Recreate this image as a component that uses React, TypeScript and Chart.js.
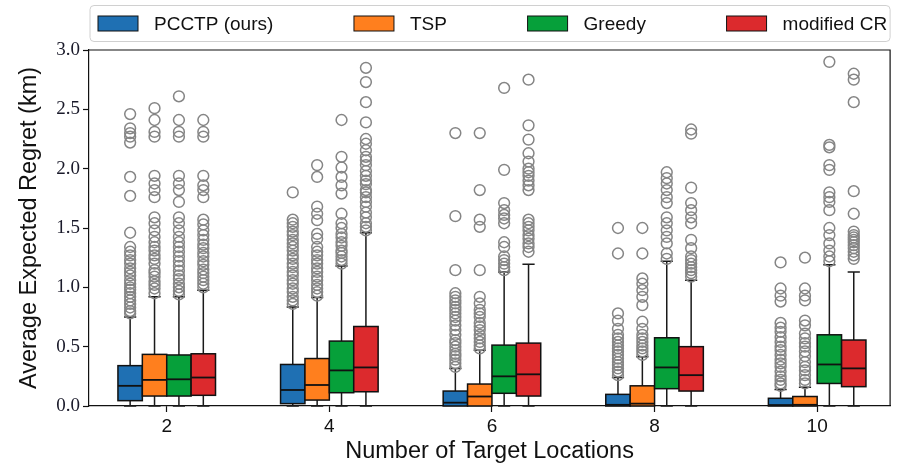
import React, { useEffect, useRef } from 'react';
import { Chart, registerables } from 'chart.js';

Chart.register(...registerables);

// ---------------- DATA ----------------
const categories = [2, 4, 6, 8, 10];
const seriesNames = ['PCCTP (ours)', 'TSP', 'Greedy', 'modified CR'];
const seriesColors = ['#1f70b3', '#ff7f1e', '#06a03a', '#dc2a2d'];
const seriesOffsets = [-0.45, -0.15, 0.15, 0.45];
const yTicks = [0, 0.5, 1.0, 1.5, 2.0, 2.5, 3.0];

// box statistics per category: [lowWhisker, q1, median, q3, highWhisker]
const pcctpStats = [
  [0, 0.045, 0.17, 0.34, 0.75],
  [0, 0.02, 0.135, 0.35, 0.835],
  [0, 0, 0.028, 0.126, 0.317],
  [0, 0, 0.01, 0.098, 0.24],
  [0, 0, 0.008, 0.065, 0.14],
];
const tspStats = [
  [0, 0.084, 0.22, 0.435, 0.92],
  [0, 0.05, 0.177, 0.4, 0.915],
  [0, 0, 0.08, 0.185, 0.47],
  [0, 0, 0.02, 0.17, 0.415],
  [0, 0, 0.01, 0.08, 0.157],
];
const greedyStats = [
  [0, 0.084, 0.225, 0.43, 0.92],
  [0, 0.112, 0.3, 0.547, 1.18],
  [0, 0.107, 0.25, 0.513, 1.13],
  [0, 0.146, 0.325, 0.575, 1.22],
  [0, 0.19, 0.35, 0.6, 1.19],
];
const crStats = [
  [0, 0.09, 0.24, 0.44, 0.976],
  [0, 0.12, 0.325, 0.67, 1.46],
  [0, 0.084, 0.267, 0.53, 1.195],
  [0, 0.126, 0.26, 0.5, 1.06],
  [0, 0.163, 0.317, 0.556, 1.13],
];

// outliers per category
const pcctpOutliers = [
  [0.78, 0.8, 0.83, 0.86, 0.89, 0.92, 0.95, 0.98, 1.0, 1.03, 1.06, 1.1, 1.13, 1.16, 1.2, 1.23, 1.27, 1.3, 1.34, 1.46, 1.77, 1.93, 2.22, 2.27, 2.3, 2.34, 2.46],
  [0.86, 0.89, 0.92, 0.96, 0.99, 1.03, 1.06, 1.1, 1.13, 1.17, 1.2, 1.24, 1.27, 1.31, 1.34, 1.37, 1.4, 1.44, 1.47, 1.51, 1.54, 1.57, 1.8],
  [0.33, 0.36, 0.39, 0.42, 0.44, 0.47, 0.5, 0.53, 0.555, 0.6, 0.64, 0.68, 0.72, 0.75, 0.78, 0.81, 0.835, 0.865, 0.89, 0.92, 0.95, 1.145, 1.6, 2.3],
  [0.26, 0.29, 0.317, 0.345, 0.37, 0.4, 0.43, 0.46, 0.485, 0.51, 0.54, 0.57, 0.6, 0.65, 0.72, 0.78, 1.285, 1.5],
  [0.17, 0.19, 0.22, 0.25, 0.29, 0.33, 0.36, 0.39, 0.43, 0.47, 0.5, 0.54, 0.58, 0.625, 0.66, 0.7, 0.88, 0.93, 0.99, 1.21],
];
const tspOutliers = [
  [0.95, 0.99, 1.02, 1.05, 1.09, 1.12, 1.145, 1.2, 1.24, 1.27, 1.31, 1.34, 1.38, 1.425, 1.48, 1.54, 1.59, 1.76, 1.82, 1.875, 1.94, 2.27, 2.31, 2.41, 2.51],
  [0.93, 0.96, 0.99, 1.02, 1.06, 1.09, 1.13, 1.16, 1.2, 1.23, 1.27, 1.3, 1.34, 1.41, 1.45, 1.566, 1.62, 1.68, 1.93, 2.03],
  [0.485, 0.51, 0.54, 0.57, 0.6, 0.64, 0.67, 0.7, 0.75, 0.78, 0.81, 0.865, 0.92, 1.145, 1.51, 1.57, 1.82, 2.3],
  [0.43, 0.46, 0.485, 0.51, 0.54, 0.57, 0.6, 0.65, 0.71, 0.85, 0.92, 0.976, 1.03, 1.075, 1.285, 1.5],
  [0.19, 0.22, 0.26, 0.3, 0.33, 0.37, 0.42, 0.46, 0.5, 0.53, 0.57, 0.61, 0.68, 0.72, 0.89, 0.93, 0.99, 1.25],
];
const greedyOutliers = [
  [0.94, 0.97, 1.0, 1.03, 1.07, 1.1, 1.14, 1.18, 1.22, 1.26, 1.3, 1.34, 1.38, 1.425, 1.48, 1.54, 1.59, 1.72, 1.82, 1.875, 1.94, 2.27, 2.31, 2.41, 2.61],
  [1.2, 1.23, 1.26, 1.29, 1.31, 1.35, 1.38, 1.42, 1.45, 1.5, 1.54, 1.62, 1.79, 1.86, 1.93, 2.01, 2.1, 2.41],
  [1.145, 1.17, 1.2, 1.23, 1.26, 1.34, 1.38, 1.54, 1.58, 1.61, 1.65, 1.71, 1.99, 2.68],
  [1.24, 1.285, 1.37, 1.425, 1.48, 1.54, 1.59, 1.71, 1.76, 1.82, 1.875, 1.92, 1.97],
  [1.22, 1.26, 1.31, 1.37, 1.44, 1.5, 1.65, 1.72, 1.76, 1.8, 1.99, 2.03, 2.18, 2.2, 2.9],
];
const crOutliers = [
  [1.0, 1.03, 1.06, 1.09, 1.12, 1.15, 1.19, 1.22, 1.26, 1.29, 1.33, 1.36, 1.4, 1.44, 1.48, 1.53, 1.57, 1.76, 1.82, 1.86, 1.94, 2.27, 2.31, 2.41],
  [1.48, 1.51, 1.54, 1.59, 1.63, 1.68, 1.72, 1.76, 1.8, 1.82, 1.87, 1.9, 1.94, 1.98, 2.03, 2.07, 2.1, 2.155, 2.21, 2.25, 2.39, 2.56, 2.73, 2.85],
  [1.3, 1.34, 1.37, 1.41, 1.44, 1.48, 1.51, 1.54, 1.57, 1.82, 1.86, 1.9, 1.94, 1.97, 2.0, 2.06, 2.13, 2.245, 2.365, 2.75],
  [1.09, 1.12, 1.145, 1.17, 1.2, 1.23, 1.26, 1.33, 1.4, 1.54, 1.59, 1.65, 1.71, 1.84, 2.295, 2.33],
  [1.24, 1.27, 1.3, 1.33, 1.355, 1.38, 1.4, 1.42, 1.44, 1.47, 1.62, 1.81, 2.56, 2.75, 2.8],
];

const allStats = [pcctpStats, tspStats, greedyStats, crStats];
const allOutliers = [pcctpOutliers, tspOutliers, greedyOutliers, crOutliers];

// ---------------- STYLE ----------------
const BOX_WIDTH = 0.3;
const SANS = '"Liberation Sans", Arial, Helvetica, sans-serif';
const SERIF = '"Liberation Serif", "Times New Roman", serif';

const boxPlugin = {
  id: 'boxPlot',
  beforeDatasetsDraw(chart: any) {
    const { ctx } = chart;
    const x = chart.scales.x;
    const y = chart.scales.y;
    ctx.save();
    allStats.forEach((stats, si) => {
      stats.forEach((st, ci) => {
        const [lo, q1, med, q3, hi] = st;
        const c = categories[ci] + seriesOffsets[si];
        const xl = x.getPixelForValue(c - BOX_WIDTH / 2);
        const xr = x.getPixelForValue(c + BOX_WIDTH / 2);
        const xc = x.getPixelForValue(c);
        const cl = x.getPixelForValue(c - BOX_WIDTH / 4);
        const cr = x.getPixelForValue(c + BOX_WIDTH / 4);
        ctx.strokeStyle = '#1a1a1a';
        ctx.lineWidth = 1.5;
        ctx.beginPath();
        ctx.moveTo(xc, y.getPixelForValue(q3));
        ctx.lineTo(xc, y.getPixelForValue(hi));
        ctx.moveTo(cl, y.getPixelForValue(hi));
        ctx.lineTo(cr, y.getPixelForValue(hi));
        if (q1 > lo) {
          ctx.moveTo(xc, y.getPixelForValue(q1));
          ctx.lineTo(xc, y.getPixelForValue(lo));
          ctx.moveTo(cl, y.getPixelForValue(lo));
          ctx.lineTo(cr, y.getPixelForValue(lo));
        }
        ctx.stroke();
        const yt = y.getPixelForValue(q3);
        const yb = y.getPixelForValue(q1);
        ctx.fillStyle = seriesColors[si];
        ctx.fillRect(xl, yt, xr - xl, yb - yt);
        ctx.strokeStyle = '#111';
        ctx.lineWidth = 1.5;
        ctx.strokeRect(xl, yt, xr - xl, yb - yt);
        ctx.lineWidth = 1.8;
        ctx.beginPath();
        const ym = y.getPixelForValue(med);
        ctx.moveTo(xl, ym);
        ctx.lineTo(xr, ym);
        ctx.stroke();
      });
    });
    ctx.restore();
  },
};

const framePlugin = {
  id: 'frameAndLegend',
  afterDraw(chart: any) {
    const { ctx, chartArea } = chart;
    ctx.save();
    // top & right spines
    ctx.strokeStyle = '#111';
    ctx.lineWidth = 1.2;
    ctx.beginPath();
    ctx.moveTo(chartArea.left, chartArea.top);
    ctx.lineTo(chartArea.right, chartArea.top);
    ctx.lineTo(chartArea.right, chartArea.bottom);
    ctx.stroke();

    // legend (expand mode across axes width)
    const fs = 19;
    ctx.font = `${fs}px ${SANS}`;
    const bx = chartArea.left + 1;
    const by = 5.5;
    const bw = chartArea.right - bx;
    const bh = 36;
    const r = 4;
    ctx.beginPath();
    ctx.moveTo(bx + r, by);
    ctx.lineTo(bx + bw - r, by);
    ctx.quadraticCurveTo(bx + bw, by, bx + bw, by + r);
    ctx.lineTo(bx + bw, by + bh - r);
    ctx.quadraticCurveTo(bx + bw, by + bh, bx + bw - r, by + bh);
    ctx.lineTo(bx + r, by + bh);
    ctx.quadraticCurveTo(bx, by + bh, bx, by + bh - r);
    ctx.lineTo(bx, by + r);
    ctx.quadraticCurveTo(bx, by, bx + r, by);
    ctx.closePath();
    ctx.fillStyle = '#ffffff';
    ctx.fill();
    ctx.strokeStyle = '#d0d0d0';
    ctx.lineWidth = 1;
    ctx.stroke();

    const handleW = 40;
    const handleH = 15;
    const pad = 16;
    const innerL = bx + 8;
    const innerR = bx + bw - 3;
    const widths = seriesNames.map((n) => handleW + pad + ctx.measureText(n).width);
    const total = widths.reduce((a, b) => a + b, 0);
    const gap = (innerR - innerL - total) / (seriesNames.length - 1);
    let cx = innerL;
    const cy = by + bh / 2;
    seriesNames.forEach((n, i) => {
      ctx.fillStyle = seriesColors[i];
      ctx.fillRect(cx, cy - handleH / 2, handleW, handleH);
      ctx.strokeStyle = '#111';
      ctx.lineWidth = 1;
      ctx.strokeRect(cx, cy - handleH / 2, handleW, handleH);
      ctx.fillStyle = '#111';
      ctx.textAlign = 'left';
      ctx.textBaseline = 'middle';
      ctx.fillText(n, cx + handleW + pad, cy + 1);
      cx += widths[i] + gap;
    });
    ctx.restore();
  },
};

export default function App() {
  const canvasRef = useRef<HTMLCanvasElement | null>(null);

  useEffect(() => {
    if (!canvasRef.current) return;
    const datasets = allOutliers.map((series, si) => ({
      label: seriesNames[si],
      data: series.flatMap((vals, ci) =>
        vals.map((v) => ({ x: categories[ci] + seriesOffsets[si], y: v }))
      ),
      pointStyle: 'circle',
      pointRadius: 5.4,
      pointBorderWidth: 1.5,
      pointBorderColor: '#858585',
      pointBackgroundColor: 'rgba(0,0,0,0)',
      showLine: false,
    }));

    const chart = new Chart(canvasRef.current, {
      type: 'scatter',
      data: { datasets },
      options: {
        animation: false,
        responsive: false,
        events: [],
        layout: { padding: { top: 50, right: 4, left: 0, bottom: 0 } },
        plugins: {
          legend: { display: false },
          tooltip: { enabled: false },
        },
        scales: {
          x: {
            type: 'linear',
            min: 1.044,
            max: 10.897,
            afterBuildTicks: (s: any) => {
              s.ticks = categories.map((v) => ({ value: v }));
            },
            afterFit: (s: any) => {
              s.height = 63;
            },
            grid: {
              drawOnChartArea: false,
              drawTicks: true,
              tickLength: 6,
              color: '#111',
              tickWidth: 1.2,
            },
            border: { display: true, color: '#111', width: 1.2 },
            ticks: {
              color: '#111',
              font: { family: SANS, size: 19 },
              padding: 3,
              maxRotation: 0,
              autoSkip: false,
              callback: (v: any) => String(v),
            },
            title: {
              display: true,
              text: 'Number of Target Locations',
              color: '#111',
              font: { family: SANS, size: 23.5 },
              padding: { top: 0, bottom: 3 },
            },
          },
          y: {
            type: 'linear',
            min: 0,
            max: 3,
            afterBuildTicks: (s: any) => {
              s.ticks = yTicks.map((v) => ({ value: v }));
            },
            afterFit: (s: any) => {
              s.width = 89;
            },
            grid: {
              drawOnChartArea: false,
              drawTicks: true,
              tickLength: 6,
              color: '#111',
              tickWidth: 1.2,
            },
            border: { display: true, color: '#111', width: 1.2 },
            ticks: {
              color: '#1a1a2a',
              font: { family: SERIF, size: 19 },
              padding: 3,
              autoSkip: false,
              callback: (v: any) => Number(v).toFixed(1),
            },
            title: {
              display: true,
              text: 'Average Expected Regret (km)',
              color: '#111',
              font: { family: SANS, size: 23.5 },
              padding: { top: 15, bottom: 0 },
            },
          },
        },
      },
      plugins: [boxPlugin, framePlugin],
    } as any);

    return () => chart.destroy();
  }, []);

  return (
    <div style={{ position: 'fixed', left: 0, top: 0, width: 897, height: 469, background: '#fff' }}>
      <canvas ref={canvasRef} width={897} height={469} style={{ display: 'block' }} />
    </div>
  );
}
